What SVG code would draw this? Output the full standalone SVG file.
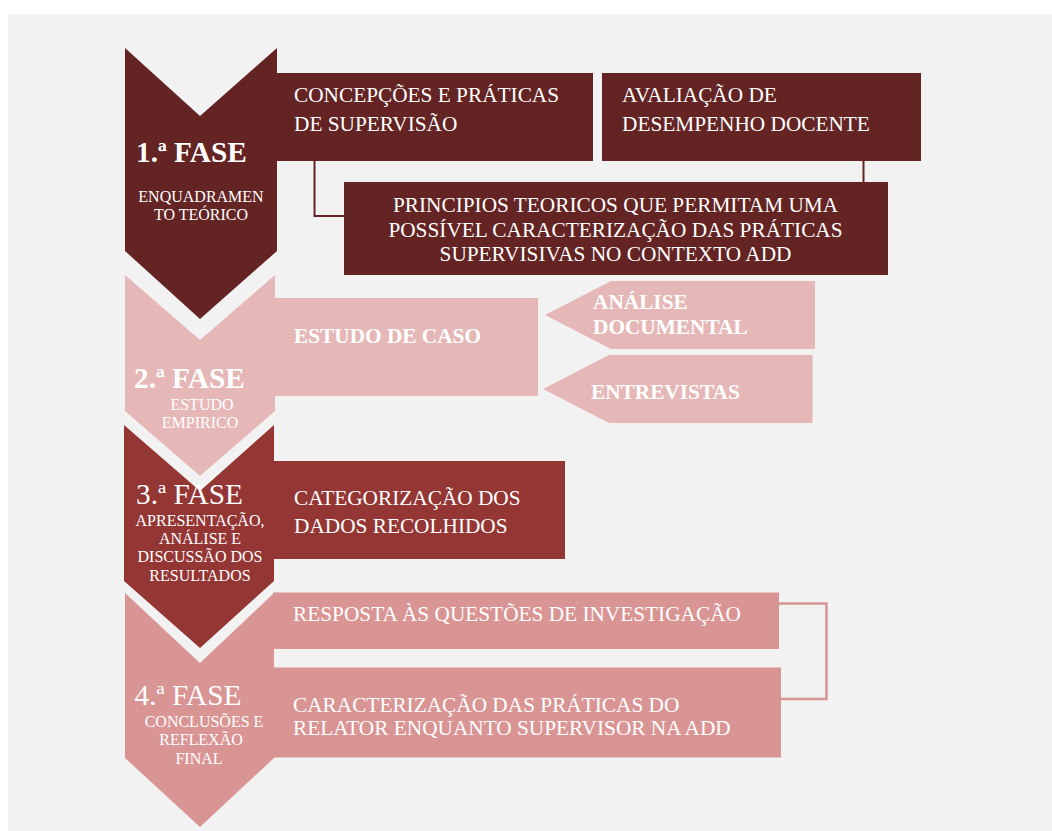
<svg xmlns="http://www.w3.org/2000/svg" width="1052" height="831" viewBox="0 0 1052 831">
<style>
.t{font-family:"Liberation Serif","Times New Roman",serif;fill:#ffffff}
.box{font-size:21.3px}
.bold{font-weight:bold}
.ph{font-size:29.3px}
.sub{font-size:16px;text-anchor:middle}
.c1{fill:#632423}
.c2{fill:#e5b8b7}
.c3{fill:#943634}
.c4{fill:#d99594}
.ln1{fill:none;stroke:#632423;stroke-width:2}
.ln4{fill:none;stroke:#d99594;stroke-width:2.5}
</style>
<rect x="0" y="0" width="1052" height="831" fill="#ffffff"/>
<rect x="8" y="14" width="1044" height="817" fill="#f2f2f2"/>
<g id="connectors">
<polyline class="ln1" points="314.5,160 314.5,216 345,216"/>
<line class="ln1" x1="863.5" y1="160" x2="863.5" y2="183"/>
<polyline class="ln4" points="778,603.5 826.5,603.5 826.5,699 780,699"/>
</g>
<g id="phase1">
<polygon class="c1" points="125,48 200,116 277,48 277,251 200,319 125,251"/>
<text class="t ph bold" x="136" y="162">1.ª FASE</text>
<text class="t sub" x="201" y="201.7">ENQUADRAMEN</text>
<text class="t sub" x="201" y="220">TO TEÓRICO</text>
</g>
<g id="concepcoes">
<rect class="c1" x="276" y="73" width="317" height="88"/>
<text class="t box" x="294" y="102">CONCEPÇÕES E PRÁTICAS</text>
<text class="t box" x="294" y="131">DE SUPERVISÃO</text>
</g>
<g id="avaliacao">
<rect class="c1" x="602" y="73" width="319" height="88"/>
<text class="t box" x="622" y="102">AVALIAÇÃO DE</text>
<text class="t box" x="622" y="131">DESEMPENHO DOCENTE</text>
</g>
<g id="principios">
<rect class="c1" x="344" y="182" width="544" height="93"/>
<text class="t box" x="615.5" y="211.7" text-anchor="middle">PRINCIPIOS TEORICOS QUE PERMITAM UMA</text>
<text class="t box" x="615.5" y="236.5" text-anchor="middle">POSSÍVEL CARACTERIZAÇÃO DAS PRÁTICAS</text>
<text class="t box" x="615.5" y="261" text-anchor="middle">SUPERVISIVAS NO CONTEXTO ADD</text>
</g>
<g id="phase2">
<polygon class="c2" points="125,275 200,340 275,275 275,411 200,476 125,411"/>
<text class="t ph bold" x="134" y="388">2.ª FASE</text>
<text class="t sub" x="202" y="410">ESTUDO</text>
<text class="t sub" x="200" y="427.5">EMPIRICO</text>
</g>
<g id="estudo-caso">
<rect class="c2" x="274" y="298" width="264" height="98"/>
<text class="t box bold" x="294" y="343">ESTUDO DE CASO</text>
</g>
<g id="analise-documental">
<polygon class="c2" points="545,315 611,281 815,281 815,349 611,349"/>
<text class="t box bold" x="593" y="309">ANÁLISE</text>
<text class="t box bold" x="593" y="334">DOCUMENTAL</text>
</g>
<g id="entrevistas">
<polygon class="c2" points="543,389 609,355 812.5,355 812.5,423 609,423"/>
<text class="t box bold" x="591" y="399">ENTREVISTAS</text>
</g>
<g id="phase3">
<polygon class="c3" points="124,425 200,491 274,425 274,581 200,648 124,581"/>
<text class="t ph" x="136" y="504">3.ª FASE</text>
<text class="t sub" x="200" y="526">APRESENTAÇÃO,</text>
<text class="t sub" x="200" y="544.3">ANÁLISE E</text>
<text class="t sub" x="200" y="562.3">DISCUSSÃO DOS</text>
<text class="t sub" x="200" y="580.7">RESULTADOS</text>
</g>
<g id="categorizacao">
<rect class="c3" x="273" y="461" width="292" height="98"/>
<text class="t box" x="294" y="505">CATEGORIZAÇÃO DOS</text>
<text class="t box" x="294" y="532.7">DADOS RECOLHIDOS</text>
</g>
<g id="phase4">
<polygon class="c4" points="125,593 200,663 274,593 274,758 200,827 125,758"/>
<text class="t ph" x="134.5" y="705">4.ª FASE</text>
<text class="t sub" x="204" y="726.7">CONCLUSÕES E</text>
<text class="t sub" x="201" y="745">REFLEXÃO</text>
<text class="t sub" x="199" y="764.3">FINAL</text>
</g>
<g id="resposta">
<rect class="c4" x="273" y="592.5" width="506" height="56.5"/>
<text class="t box" x="293" y="620.7">RESPOSTA ÀS QUESTÕES DE INVESTIGAÇÃO</text>
</g>
<g id="caracterizacao">
<rect class="c4" x="273" y="667.5" width="508" height="90"/>
<text class="t box" x="293" y="711.7">CARACTERIZAÇÃO DAS PRÁTICAS DO</text>
<text class="t box" x="293" y="735">RELATOR ENQUANTO SUPERVISOR NA ADD</text>
</g>
</svg>
